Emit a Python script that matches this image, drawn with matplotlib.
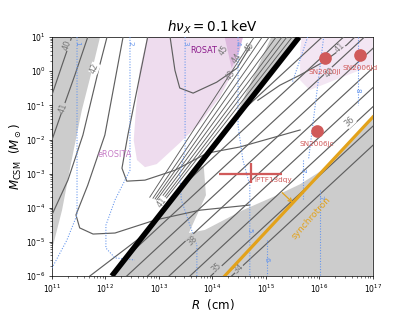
import numpy as np
import matplotlib
matplotlib.use("Agg")
import matplotlib.pyplot as plt

# ---- data (log10 R [cm], log10 M [Msun]) ----
gray_left = [(11.0, 1.0), (11.90, 1.0), (11.75, 0.03), (11.56, -1.14), (11.37, -2.60), (11.19, -4.07), (11.0, -5.24)]
gray_right = [(12.12, -6.0), (13.71, -2.75), (13.84, -2.81), (13.88, -3.63), (13.56, -4.74), (13.86, -4.65),
              (14.57, -4.07), (15.21, -3.63), (15.64, -3.31), (16.20, -2.75), (16.70, -1.87), (17.0, -1.37), (17.0, -6.0)]
gray_band = [(15.10, 1.0), (15.56, 1.0), (14.40, -1.43)]
pink_main = [(12.78, 1.0), (12.64, 0.03), (12.57, -1.14), (12.53, -2.02), (12.59, -2.60), (12.74, -2.81), (12.96, -2.72),
             (13.39, -2.10), (13.77, -1.52), (14.14, -0.76), (14.38, -0.05), (14.51, 0.62), (14.57, 1.0)]
pink_rosat = [(14.23, 1.0), (14.57, 1.0), (14.51, 0.62), (14.36, 0.09)]
pink_right = [(15.67, 1.0), (17.0, 1.0), (17.0, 0.18), (16.38, -0.20), (15.82, -0.55), (15.64, -0.26), (15.64, 0.62)]

black_line_R = [12.12, 15.62]
black_line_M = [-6.0, 1.0]
sync_R = [14.23, 17.0]
sync_M = [-6.0, -1.34]

contours_left = [
    [(11.37, 1.0), (11.19, 0.18), (11.0, -0.70)],
    [(11.67, 1.0), (11.43, -0.11), (11.21, -1.08), (11.0, -2.02)],
    [(12.03, 1.0), (11.88, 0.09), (11.58, -1.87), (11.30, -3.19), (11.0, -4.21)],
    [(12.33, 1.0), (11.99, -1.87), (11.67, -3.34), (11.45, -4.21), (11.52, -4.59), (11.77, -4.77), (12.18, -4.74),
     (12.93, -4.36), (13.77, -4.07), (14.70, -3.92)],
    [(12.79, 1.0), (12.42, -1.87), (12.31, -2.84), (12.40, -3.22), (12.74, -3.19), (13.30, -2.90), (13.90, -2.40),
     (14.51, -2.22), (15.64, -1.72)],
    [(13.21, 1.0), (13.30, 0.03), (13.39, -0.49), (13.64, -0.64), (14.08, -0.32), (14.46, 0.09), (14.70, 0.71)],
    [(14.85, -0.85), (15.26, -0.41), (15.64, -0.11), (16.07, 0.27), (16.51, 0.77), (16.66, 1.0)],
    [(11.71, -6.0), (12.79, -4.71)],
]
dense_top_R = [15.49, 15.39, 15.30, 15.19, 15.06, 14.93, 14.78]
dense_bot_R = [13.07, 13.04, 13.00, 12.96, 12.93, 12.89, 12.83]
dense_bot_M = [-3.86, -3.83, -3.80, -3.77, -3.74, -3.72, -3.69]

right_lines = [  # (R0, M0, R1, M1)
    (14.36, -6.0, 17.0, -2.17),
    (13.97, -6.0, 17.0, -1.61),
    (13.58, -6.0, 17.0, -1.04),
    (13.19, -6.0, 17.0, -0.48),
    (12.79, -6.0, 17.0, 0.10),
    (12.40, -6.0, 17.0, 0.67),
    (12.41, -5.42, 16.84, 1.0),
    (13.44, -3.36, 16.45, 1.0),
    (14.49, -1.26, 16.05, 1.0),
]

# text, logR, logM, rotation, background colour
gray_labels = [("40", 11.28, 0.77, 70, "#cccccc"), ("41", 11.21, -1.08, 70, "#cccccc"), ("42", 11.80, 0.09, 68, "white"),
               ("41", 13.06, -3.83, 52, "white"), ("43", 14.33, -0.11, 55, None), ("44", 14.46, 0.38, 55, None),
               ("45", 14.20, 0.62, 55, None), ("45", 14.70, 0.71, 55, None),
               ("34", 14.48, -5.77, 43, "#cccccc"), ("35", 14.08, -5.77, 43, "#cccccc"), ("36", 16.57, -1.49, 43, "white"),
               ("38", 13.62, -4.95, 43, "#cccccc"), ("40", 16.20, -0.05, 43, "#f3e6f3"), ("41", 16.38, 0.68, 43, "#f3e6f3")]

blue_lines = [
    [(11.47, 1.0), (11.47, -4.21), (11.28, -4.95), (11.0, -5.77)],
    [(12.46, 1.0), (12.46, -2.90), (12.18, -3.77), (12.01, -4.51), (12.01, -5.18), (12.18, -5.47), (12.55, -5.53)],
    [(13.49, 1.0), (13.49, -2.31), (13.39, -3.04), (13.42, -3.77), (13.58, -4.51), (13.71, -5.09), (13.71, -6.0)],
    [(14.48, 1.0), (14.48, -1.58), (14.57, -2.60), (14.70, -3.34), (14.70, -6.0)],
    [(15.02, -4.95), (15.02, -6.0)],
    [(15.69, -2.60), (15.69, -3.77)],
    [(16.01, -3.48), (16.01, -6.0)],
    [(16.72, 1.0), (16.72, -1.0)],
    [(15.50, -0.30), (15.78, 1.0)],
    [(15.80, -2.55), (16.08, 1.0)],
]
blue_labels = [("1", 11.47, 0.82), ("2", 12.46, 0.82), ("3", 13.49, 0.82), ("4", 14.48, 0.82),
               ("5", 14.70, -4.65), ("6", 15.02, -5.50), ("7", 15.69, -2.90), ("7", 16.01, -3.70), ("8", 16.72, -0.55)]

sn_names = ["SN2010jl", "SN2006jd", "SN2006jc"]
sn_logR = [16.10, 16.76, 15.95]
sn_logM = [0.38, 0.47, -1.75]
iptf_logR, iptf_logM = 14.72, -3.0
iptf_R_err = (14.12, 15.30)
iptf_M_err = (-3.28, -2.69)

# ---- plot ----
DPI = 65
fig = plt.figure(figsize=(415 / DPI, 311 / DPI), dpi=DPI)
ax = fig.add_axes([0.125, 0.1125, 0.7735, 0.768])
ax.set_xscale("log")
ax.set_yscale("log")
ax.set_xlim(1e11, 1e17)
ax.set_ylim(1e-6, 1e1)

def P(pts):
    a = np.array(pts)
    return 10 ** a[:, 0], 10 ** a[:, 1]

gcol = "#cccccc"
for poly in (gray_left, gray_right, gray_band):
    x, y = P(poly)
    ax.fill(x, y, color=gcol, lw=0, zorder=1)
for poly, c in ((pink_main, "#eedcee"), (pink_right, "#f3e6f3"), (pink_rosat, "#ddb8dd")):
    x, y = P(poly)
    ax.fill(x, y, color=c, lw=0, zorder=1.5)

lc = "#5f5f5f"
for ln in contours_left:
    x, y = P(ln)
    ax.plot(x, y, color=lc, lw=1.3, zorder=3)
for rt, rb, mb in zip(dense_top_R, dense_bot_R, dense_bot_M):
    ax.plot([10 ** rt, 10 ** rb], [10, 10 ** mb], color=lc, lw=1.0, zorder=3)
for r0, m0, r1, m1 in right_lines:
    ax.plot([10 ** r0, 10 ** r1], [10 ** m0, 10 ** m1], color=lc, lw=1.3, zorder=3)
for t, r, m, rot, bg in gray_labels:
    bb = dict(fc=bg, ec="none", pad=0.2) if bg else None
    ax.text(10 ** r, 10 ** m, t, color="#777777", fontsize=9, rotation=rot, ha="center", va="center",
            zorder=4, bbox=bb)

for ln in blue_lines:
    x, y = P(ln)
    ax.plot(x, y, color="#6495ed", lw=1.2, ls=(0, (1, 1.5)), zorder=3)
for t, r, m in blue_labels:
    ax.text(10 ** r, 10 ** m, t, color="#6495ed", fontsize=8, rotation=-90, ha="center", va="center", zorder=4)

ax.plot(10 ** np.array(black_line_R), 10 ** np.array(black_line_M), color="black", lw=6, zorder=5, solid_capstyle="butt")
ax.plot(10 ** np.array(sync_R), 10 ** np.array(sync_M), color="#e3a21a", lw=3.5, zorder=5)
ax.annotate("", xy=(10 ** 15.53, 10 ** -3.89), xytext=(10 ** 15.28, 10 ** -3.52),
            arrowprops=dict(arrowstyle="->", color="#e3a21a", lw=1.4), zorder=5)
ax.text(10 ** 15.85, 10 ** -4.3, "synchrotron", color="#e3a21a", fontsize=10, rotation=48,
        ha="center", va="center", zorder=5)

rc = "#d05a5a"
ax.plot(10 ** np.array(sn_logR), 10 ** np.array(sn_logM), "o", color=rc, ms=14, zorder=6, mec="none")
ax.errorbar([10 ** iptf_logR], [10 ** iptf_logM],
            xerr=[[10 ** iptf_logR - 10 ** iptf_R_err[0]], [10 ** iptf_R_err[1] - 10 ** iptf_logR]],
            yerr=[[10 ** iptf_logM - 10 ** iptf_M_err[0]], [10 ** iptf_M_err[1] - 10 ** iptf_logM]],
            fmt="none", ecolor=rc, elinewidth=2.5, zorder=6)
for n, r, m in zip(sn_names, sn_logR, sn_logM):
    ax.text(10 ** r, 10 ** (m - 0.3), n, color=rc, fontsize=8, ha="center", va="top", zorder=6)
ax.text(10 ** 14.78, 10 ** -3.1, "iPTF13dqy", color=rc, fontsize=8, ha="left", va="top", zorder=6)

ax.text(10 ** 13.84, 10 ** 0.62, "ROSAT", color="#8b1a8b", fontsize=9, ha="center", va="center", zorder=4)
ax.text(10 ** 12.18, 10 ** -2.43, "eROSITA", color="#c77dc7", fontsize=9, ha="center", va="center", zorder=4)

ax.set_title(r"$h\nu_X = 0.1\,\mathrm{keV}$", fontsize=15)
ax.set_xlabel(r"$R$  (cm)", fontsize=13, labelpad=2)
ax.set_ylabel(r"$M_{\rm CSM}$  ($M_\odot$)", fontsize=13, labelpad=2)
ax.tick_params(labelsize=8.5)
fig.savefig("out.png", dpi=DPI)
